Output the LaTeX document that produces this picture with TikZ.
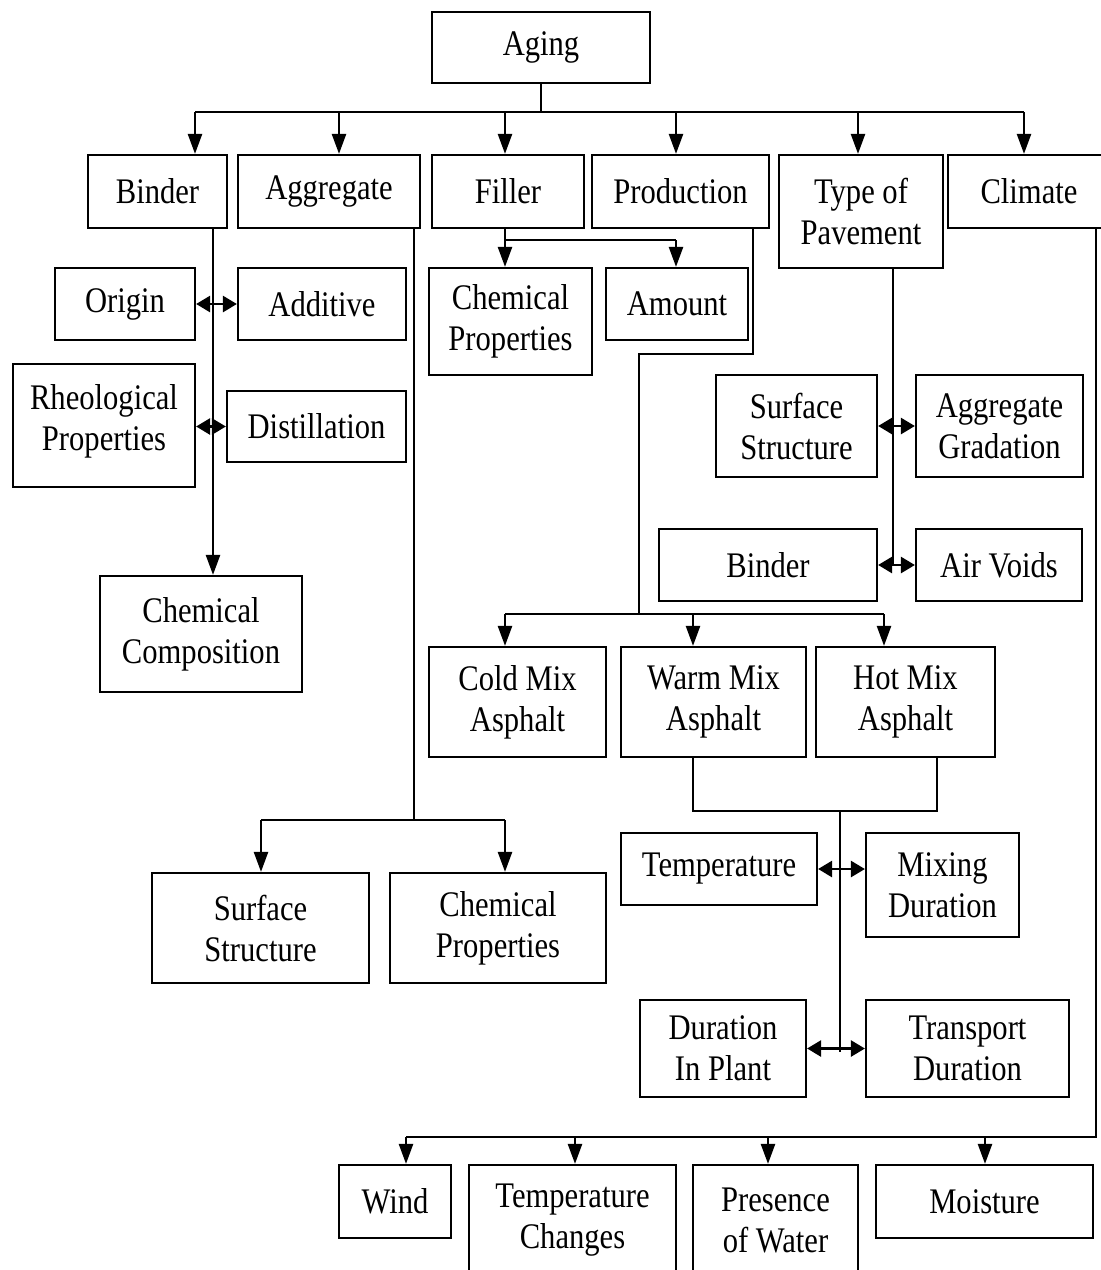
\documentclass[tikz,border=0pt]{standalone}
\usepackage{fontspec}
\setmainfont[FakeStretch=0.85]{Liberation Serif}
\usetikzlibrary{arrows.meta}
\newcommand\fs{\fontsize{36}{41}\selectfont}
\newcommand{\bx}[6]{\node[box, minimum width=#4pt-#2pt, minimum height=#5pt-#3pt] (#1) at ({(#2+#4)/2},{(#3+#5)/2}) {#6};}
\tikzset{
 box/.style={draw, line width=2.2pt, rectangle, align=center, inner sep=0pt, font=\fs},
 ln/.style={line width=2.2pt},
 arr/.style={line width=2.4pt, -{Triangle[length=20pt,width=14pt]}},
 dbl/.style={line width=2.6pt, {Triangle[length=14pt,width=16pt]}-{Triangle[length=14pt,width=16pt]}},
}
\begin{document}
\begin{tikzpicture}[x=1pt,y=-1pt]
\useasboundingbox[fill=white] (0,0) rectangle (1101,1270);
% boxes
\bx{aging}{432}{12}{650}{83}{Aging}
\bx{binder}{88}{155}{227}{228}{Binder}
\bx{aggr}{238}{155}{420}{228}{Aggregate}
\bx{filler}{432}{155}{584}{228}{Filler}
\bx{prod}{592}{155}{769}{228}{Production}
\bx{top}{779}{155}{943}{268}{Type of\\Pavement}
\bx{clim}{948}{155}{1110}{228}{Climate}
\bx{origin}{55}{268}{195}{340}{Origin}
\bx{addit}{238}{268}{406}{340}{Additive}
\bx{rheo}{13}{364}{195}{487}{Rheological\\Properties\\[-26pt]}
\bx{dist}{227}{391}{406}{462}{Distillation}
\bx{chcomp}{100}{576}{302}{692}{Chemical\\Composition}
\bx{fchem}{429}{268}{592}{375}{Chemical\\Properties}
\bx{amount}{606}{268}{748}{340}{Amount}
\bx{surf}{716}{375}{877}{477}{Surface\\Structure}
\bx{gradn}{916}{375}{1083}{477}{Aggregate\\Gradation}
\bx{pbinder}{659}{529}{877}{601}{Binder}
\bx{voids}{916}{529}{1082}{601}{Air Voids}
\bx{cold}{429}{647}{606}{757}{Cold Mix\\Asphalt}
\bx{warm}{621}{647}{806}{757}{Warm Mix\\Asphalt}
\bx{hot}{816}{647}{995}{757}{Hot Mix\\Asphalt}
\bx{asurf}{152}{873}{369}{983}{Surface\\Structure}
\bx{achem}{390}{873}{606}{983}{Chemical\\Properties}
\bx{temp}{621}{833}{817}{905}{Temperature}
\bx{mixd}{866}{833}{1019}{937}{Mixing\\Duration}
\bx{dplant}{640}{1000}{806}{1097}{Duration\\In Plant}
\bx{trans}{866}{1000}{1069}{1097}{Transport\\Duration}
\bx{wind}{339}{1165}{451}{1238}{Wind}
\bx{tchg}{469}{1165}{676}{1275}{Temperature\\Changes}
\bx{water}{693}{1165}{858}{1275}{Presence\\of Water}
\bx{moist}{876}{1165}{1093}{1238}{Moisture}
% top bus
\coordinate (busL) at (195,112);
\coordinate (busR) at (1024,112);
\draw[ln] (aging.south) -- (aging.south |- busL);
\draw[ln] (busL) -- (busR);
\foreach \xx/\nn in {195/binder,339/aggr,505/filler,676/prod,858/top,1024/clim}{
  \coordinate (t\nn) at (\xx,112);
  \draw[arr] (t\nn) -- (t\nn |- \nn.north);
}
% binder branch
\coordinate (bx) at (213,0);
\draw[arr] (bx |- binder.south) -- (bx |- chcomp.north);
\draw[dbl] (origin.east) -- (addit.west);
\draw[dbl] (rheo.east |- dist.west) -- (dist.west);
% aggregate branch
\coordinate (ax) at (414,820);
\coordinate (al) at (261,820);
\coordinate (ar) at (505,820);
\draw[ln] (ax |- aggr.south) -- (ax);
\draw[ln] (al) -- (ar);
\draw[arr] (al) -- (al |- asurf.north);
\draw[arr] (ar) -- (ar |- achem.north);
% filler branch
\coordinate (fl) at (505,240);
\coordinate (fr) at (676,240);
\draw[ln] (fl |- filler.south) -- (fl) -- (fr);
\draw[arr] (fl) -- (fl |- fchem.north);
\draw[arr] (fr) -- (fr |- amount.north);
% production branch
\coordinate (p1) at (753,354);
\coordinate (p2) at (639,354);
\coordinate (p3) at (639,614);
\coordinate (m1) at (505,614);
\coordinate (m2) at (693,614);
\coordinate (m3) at (884,614);
\draw[ln] (p1 |- prod.south) -- (p1) -- (p2) -- (p3);
\draw[ln] (m1) -- (m3);
\draw[arr] (m1) -- (m1 |- cold.north);
\draw[arr] (m2) -- (m2 |- warm.north);
\draw[arr] (m3) -- (m3 |- hot.north);
\coordinate (w1) at (693,811);
\coordinate (h1) at (937,811);
\coordinate (c1) at (840,811);
\coordinate (c2) at (840,1052);
\draw[ln] (w1 |- warm.south) -- (w1) -- (h1) -- (h1 |- hot.south);
\draw[ln] (c1) -- (c2);
\draw[dbl] (temp.east) -- (temp.east -| mixd.west);
\draw[dbl] (dplant.east) -- (trans.west);
% type of pavement branch
\coordinate (tp) at (893,564);
\draw[ln] (tp |- top.south) -- (tp);
\draw[dbl] (surf.east) -- (gradn.west);
\draw[dbl] (pbinder.east) -- (voids.west);
% climate branch
\coordinate (cl1) at (1096,1137);
\coordinate (cw) at (406,1137);
\draw[ln] (cl1 |- clim.south) -- (cl1) -- (cw);
\foreach \xx/\nn in {406/wind,575/tchg,768/water,985/moist}{
  \coordinate (k\nn) at (\xx,1137);
  \draw[arr] (k\nn) -- (k\nn |- \nn.north);
}
\end{tikzpicture}
\end{document}
